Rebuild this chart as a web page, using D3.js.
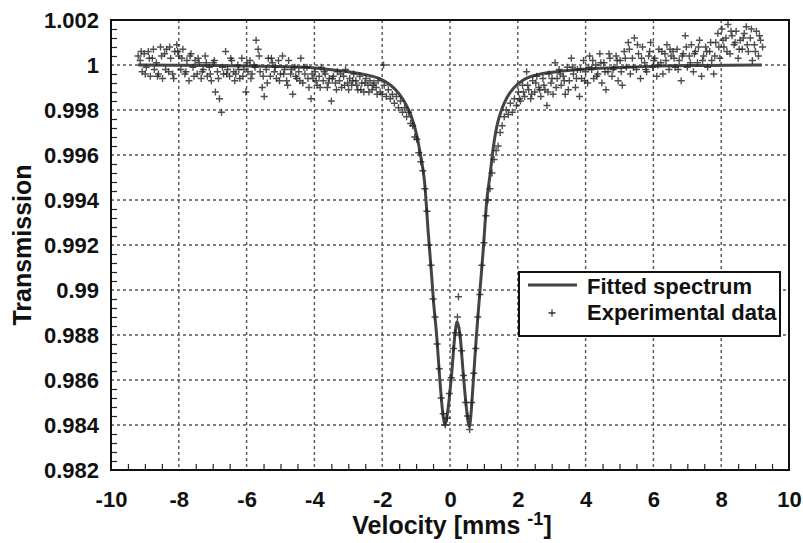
<!DOCTYPE html>
<html>
<head>
<meta charset="UTF-8">
<script src="https://d3js.org/d3.v7.min.js"></script>
<style>
  body { margin: 0; background: #fff; }
  svg text { font-family: "Liberation Sans", Arial, sans-serif; fill: #111; }
  .tick-label { font-size: 22px; font-weight: bold; }
  .grid line { stroke: #555; stroke-width: 1.4px; stroke-dasharray: 3,3; }
  .minor line { stroke: #222; stroke-width: 1.2px; }
</style>
</head>
<body>
<svg id="chart" width="803" height="543"></svg>
<script>
// axis ticks
const xTicks = [-10, -8, -6, -4, -2, 0, 2, 4, 6, 8, 10];
const yTicks = [0.982, 0.984, 0.986, 0.988, 0.99, 0.992, 0.994, 0.996, 0.998, 1, 1.002];
const yTickLabels = ["0.982", "0.984", "0.986", "0.988", "0.99", "0.992", "0.994", "0.996", "0.998", "1", "1.002"];

// fitted spectrum [velocity, transmission]
const fitted = [
  [-9.2, 1.0000], [-7, 0.99998], [-6, 0.99996], [-5, 0.99993], [-4, 0.99987],
  [-3, 0.99970], [-2.5, 0.99957], [-2, 0.99934], [-1.75, 0.99910], [-1.5, 0.99872],
  [-1.3, 0.99825], [-1.15, 0.99775], [-1, 0.99700], [-0.87, 0.99600], [-0.75, 0.99480],
  [-0.64, 0.99252], [-0.54, 0.99060], [-0.49, 0.98956], [-0.39, 0.98792], [-0.3, 0.98600],
  [-0.2, 0.98437], [-0.15, 0.98400], [-0.1, 0.98430], [-0.05, 0.98481], [0.05, 0.98630],
  [0.15, 0.98808], [0.21, 0.98859], [0.29, 0.98808], [0.39, 0.98630], [0.49, 0.98467],
  [0.57, 0.98393], [0.62, 0.98450], [0.67, 0.98556], [0.77, 0.98778], [0.88, 0.98990],
  [0.98, 0.99178], [1.08, 0.99390], [1.18, 0.99510], [1.28, 0.99637], [1.38, 0.99726],
  [1.52, 0.99800], [1.67, 0.99852], [1.87, 0.99896], [2.16, 0.99933], [2.56, 0.99956],
  [3.15, 0.99970], [3.93, 0.99981], [4.92, 0.99988], [6, 0.99995], [7.5, 0.99998],
  [9.2, 1.0000]
];

// experimental data points [velocity, transmission]
const experimental = [
  [-9.20,1.0004],[-9.14,1.0002],[-9.08,0.9997],[-9.02,1.0005],[-8.96,0.9999],[-8.90,1.0006],
  [-8.84,0.9995],[-8.78,1.0003],[-8.72,0.9998],[-8.66,1.0001],[-8.60,0.9996],[-8.54,1.0008],
  [-8.48,0.9994],[-8.42,1.0005],[-8.36,1.0007],[-8.30,0.9997],[-8.24,1.0003],[-8.18,0.9996],
  [-8.12,1.0006],[-8.06,1.0009],[-8.00,1.0004],[-7.94,0.9998],[-7.88,1.0007],[-7.82,0.9996],
  [-7.76,1.0002],[-7.70,0.9993],[-7.64,1.0005],[-7.58,0.9999],[-7.52,1.0002],
  [-7.46,0.9996],[-7.40,1.0001],[-7.34,0.9994],[-7.28,0.9998],[-7.22,1.0004],[-7.16,0.9995],
  [-7.10,0.9999],[-7.04,0.9993],[-6.98,1.0001],[-6.92,0.9988],[-6.86,0.9997],[-6.80,0.9985],
  [-6.74,0.9979],[-6.68,0.9996],[-6.62,1.0006],[-6.56,0.9998],[-6.50,0.9995],[-6.44,1.0002],
  [-6.38,0.9997],[-6.32,0.9996],[-6.26,1.0000],[-6.20,0.9994],[-6.14,1.0003],[-6.08,0.9998],
  [-6.02,0.9988],[-5.96,0.9997],[-5.90,1.0002],[-5.84,0.9996],[-5.78,1.0000],[-5.72,1.0011],
  [-5.66,1.0007],[-5.60,0.9997],[-5.54,0.9990],[-5.48,0.9986],[-5.42,0.9998],[-5.36,1.0003],
  [-5.30,0.9995],[-5.24,1.0001],[-5.18,0.9997],[-5.12,0.9994],[-5.06,1.0002],[-5.00,0.9996],
  [-4.94,1.0004],[-4.88,0.9998],[-4.82,0.9993],[-4.76,1.0002],[-4.70,0.9996],[-4.64,0.9987],
  [-4.58,0.9999],[-4.52,0.9994],[-4.46,0.9997],[-4.40,1.0003],[-4.34,0.9992],[-4.28,0.9996],
  [-4.22,0.9999],[-4.16,0.9990],[-4.10,0.9985],[-4.04,0.9994],[-3.98,0.9997],[-3.92,0.9991],
  [-3.86,0.9995],[-3.80,0.9999],[-3.74,0.9993],[-3.68,0.9996],[-3.62,0.9990],[-3.56,0.9994],
  [-3.50,0.9984],[-3.44,0.9995],[-3.38,0.9992],[-3.32,0.9997],[-3.26,0.9993],[-3.20,0.9990],
  [-3.14,0.9995],[-3.08,0.9998],[-3.02,0.9992],[-2.96,0.9994],[-2.90,0.9991],[-2.84,0.9996],
  [-2.78,0.9993],[-2.72,0.9989],[-2.66,0.9995],[-2.60,0.9992],[-2.54,0.9988],[-2.48,0.9994],
  [-2.42,0.9991],[-2.36,0.9993],[-2.30,0.9989],[-2.24,0.9992],[-2.18,0.9990],[-2.12,0.9993],
  [-2.06,0.9988],[-1.96,1.0000],
  [-2.00,0.9987],[-1.94,0.9991],[-1.88,0.9986],[-1.82,0.9989],[-1.76,0.9985],[-1.70,0.9987],
  [-1.64,0.9983],[-1.58,0.9986],[-1.52,0.9981],[-1.46,0.9984],[-1.40,0.9979],[-1.34,0.9981],
  [-1.28,0.9977],[-1.22,0.9979],[-1.16,0.9974],[-1.10,0.9973],[-1.04,0.9968],[-0.98,0.9967],
  [-0.92,0.9961],[-0.86,0.9957],[-0.80,0.9953],[-0.74,0.9945],[-0.68,0.9935],[-0.62,0.9920],
  [-0.56,0.9911],[-0.50,0.9896],[-0.44,0.9888],[-0.38,0.9876],[-0.32,0.9865],[-0.26,0.9852],
  [-0.20,0.9845],[-0.14,0.9840],[-0.08,0.9843],[-0.02,0.9854],[0.04,0.9861],[0.10,0.9874],
  [0.16,0.9881],[0.22,0.9888],[0.25,0.9897],[0.28,0.9880],[0.34,0.9873],[0.40,0.9862],
  [0.46,0.9850],[0.52,0.9844],[0.58,0.9838],[0.64,0.9850],[0.70,0.9863],[0.76,0.9874],
  [0.82,0.9888],[0.88,0.9898],[0.94,0.9911],[1.00,0.9921],[1.06,0.9933],[1.12,0.9940],
  [1.18,0.9945],[1.24,0.9952],[1.30,0.9958],[1.36,0.9962],[1.42,0.9964],[1.48,0.9970],
  [1.54,0.9973],[1.60,0.9977],[1.66,0.9980],
  [1.72,0.9978],[1.78,0.9983],[1.84,0.9979],[1.90,0.9985],[1.96,0.9982],[2.02,0.9988],
  [2.08,0.9984],[2.14,0.9991],[2.20,0.9986],[2.26,0.9997],[2.32,0.9989],[2.38,0.9985],
  [2.44,0.9993],[2.50,0.9988],[2.56,0.9995],[2.62,0.9990],[2.68,0.9986],[2.74,0.9994],
  [2.80,0.9989],[2.86,0.9982],[2.92,0.9996],[2.98,0.9992],[3.04,0.9987],[3.10,1.0001],
  [3.16,0.9994],[3.22,0.9998],[3.28,0.9991],[3.34,0.9995],[3.40,0.9987],[3.46,0.9999],
  [3.52,0.9993],[3.58,1.0003],[3.64,0.9996],[3.70,0.9990],[3.76,0.9998],[3.82,0.9986],
  [3.88,0.9994],[3.94,1.0002],[4.00,0.9997],[4.06,0.9992],[4.12,1.0004],[4.18,0.9998],
  [4.24,0.9994],[4.30,1.0000],[4.36,0.9996],[4.42,1.0005],[4.48,0.9992],[4.54,1.0001],
  [4.60,0.9989],[4.66,0.9997],[4.72,1.0003],[4.78,0.9995],[4.84,0.9999],[4.90,1.0004],
  [4.96,0.9993],
  [5.02,1.0002],[5.08,0.9991],[5.14,1.0006],[5.20,0.9999],[5.26,1.0010],[5.32,0.9996],
  [5.38,1.0003],[5.44,1.0012],[5.50,0.9998],[5.56,1.0005],[5.62,0.9994],[5.68,1.0008],
  [5.74,1.0001],[5.80,0.9997],[5.86,1.0004],[5.92,1.0010],[5.98,0.9999],[6.04,1.0003],
  [6.10,0.9995],[6.16,1.0007],[6.22,1.0001],[6.28,0.9996],[6.34,1.0005],[6.40,1.0009],
  [6.46,0.9998],[6.52,1.0004],[6.58,1.0006],[6.64,0.9999],[6.70,1.0007],[6.76,1.0002],
  [6.82,0.9993],[6.88,1.0005],[6.94,1.0013],[7.00,0.9999],[7.06,1.0004],[7.12,1.0009],
  [7.18,0.9997],[7.24,1.0006],[7.30,1.0001],[7.36,1.0011],[7.42,0.9995],[7.48,1.0004],
  [7.54,1.0008],[7.60,0.9999],[7.66,1.0006],[7.72,1.0002],[7.78,0.9996],[7.84,1.0010],
  [7.90,1.0014],[7.96,1.0003],[8.02,1.0016],[8.08,1.0008],[8.14,1.0012],[8.20,1.0018],
  [8.26,1.0005],[8.32,1.0013],[8.38,1.0009],[8.44,1.0015],[8.50,1.0003],[8.56,1.0011],
  [8.62,1.0007],[8.68,1.0014],[8.74,1.0017],[8.80,1.0006],[8.86,1.0012],[8.92,1.0002],
  [8.98,1.0009],[9.04,1.0015],[9.10,1.0004],[9.16,1.0011],[9.22,1.0008],
  // second pass in the wings, where the scatter is denser
  [-9.11,1.0006],[-8.99,0.9996],[-8.87,1.0003],[-8.75,1.0007],[-8.63,0.9995],[-8.51,1.0004],
  [-8.39,0.9998],[-8.27,1.0008],[-8.15,0.9994],[-8.03,1.0006],[-7.91,1.0003],[-7.79,0.9997],
  [-7.67,1.0004],[-7.55,0.9995],[-7.43,1.0003],[-7.31,0.9997],[-7.19,1.0001],[-7.07,0.9996],
  [-6.95,1.0002],[-6.83,0.9994],[-6.71,0.9999],[-6.59,0.9996],[-6.47,1.0003],[-6.35,0.9993],
  [-6.23,0.9998],[-6.11,0.9995],[-5.99,1.0001],[-5.87,0.9994],[-5.75,0.9999],[-5.63,1.0004],
  [-5.51,0.9995],[-5.39,0.9992],[-5.27,1.0003],[-5.15,0.9999],[-5.03,0.9993],
  [-4.91,0.9996],[-4.79,0.9991],[-4.67,0.9998],[-4.55,0.9995],[-4.43,0.9993],[-4.31,0.9999],
  [-4.19,0.9994],[-4.07,0.9996],[-3.95,0.9993],[-3.83,0.9990],[-3.71,0.9997],[-3.59,0.9992],
  [-3.47,0.9994],[-3.35,0.9989],[-3.23,0.9996],[-3.11,0.9991],[-2.99,0.9989],[-2.87,0.9993],
  [-2.75,0.9991],[-2.63,0.9989],[-2.51,0.9992],[-2.39,0.9988],[-2.27,0.9991],[-2.15,0.9987],
  [2.05,0.9985],[2.17,0.9988],[2.29,0.9991],[2.41,0.9987],[2.53,0.9992],[2.65,0.9989],
  [2.77,0.9991],[2.89,0.9988],[3.01,0.9994],[3.13,0.9990],[3.25,0.9996],[3.37,0.9993],
  [3.49,0.9989],[3.61,0.9999],[3.73,0.9994],[3.85,0.9998],[3.97,0.9993],[4.09,0.9999],
  [4.21,1.0002],[4.33,0.9995],[4.45,1.0001],[4.57,0.9997],[4.69,1.0005],[4.81,0.9998],
  [4.93,1.0002],[5.05,0.9997],[5.17,1.0003],[5.29,1.0007],[5.41,0.9999],[5.53,1.0009],
  [5.65,1.0003],[5.77,0.9998],[5.89,1.0006],[6.01,1.0002],[6.13,1.0000],[6.25,1.0006],
  [6.37,1.0002],[6.49,1.0007],[6.61,1.0003],[6.73,0.9998],[6.85,1.0004],[6.97,1.0008],
  [7.09,1.0001],[7.21,1.0005],[7.33,1.0008],[7.45,1.0002],[7.57,1.0006],[7.69,1.0010],
  [7.81,1.0004],[7.93,1.0008],[8.05,1.0011],[8.17,1.0006],[8.29,1.0015],[8.41,1.0010],
  [8.53,1.0007],[8.65,1.0012],[8.77,1.0009],[8.89,1.0016],[9.01,1.0006],[9.13,1.0013]
];

const legendItems = ["Fitted spectrum", "Experimental data"];

const margin = { top: 20, right: 14, bottom: 73, left: 111 },
      width = 803 - margin.left - margin.right,
      height = 543 - margin.top - margin.bottom;

const svg = d3.select("#chart")
  .append("g")
  .attr("transform", `translate(${margin.left},${margin.top})`);

const x = d3.scaleLinear().domain([-10, 10]).range([0, width]);
const y = d3.scaleLinear().domain([0.982, 1.002]).range([height, 0]);

// dotted grid
svg.append("g").attr("class", "grid")
  .selectAll("line").data(xTicks.slice(1, -1)).enter().append("line")
  .attr("x1", d => x(d)).attr("x2", d => x(d))
  .attr("y1", 0).attr("y2", height);
svg.append("g").attr("class", "grid")
  .selectAll("line").data(yTicks.slice(1, -1)).enter().append("line")
  .attr("x1", 0).attr("x2", width)
  .attr("y1", d => y(d)).attr("y2", d => y(d));

// minor ticks pointing inward
const xMinor = d3.range(-10, 10.01, 0.5).filter(v => Math.abs(v % 2) > 0.01);
const yMinor = d3.range(0, 50).map(i => 0.982 + i * 0.0004).filter((v, i) => i % 5 !== 0);

svg.append("g").attr("class", "minor")
  .attr("transform", `translate(0,${height})`)
  .call(d3.axisBottom(x).tickValues(xMinor).tickSize(-6).tickFormat(""))
  .call(g => g.select(".domain").remove());
svg.append("g").attr("class", "minor")
  .call(d3.axisLeft(y).tickValues(yMinor).tickSize(-6).tickFormat(""))
  .call(g => g.select(".domain").remove());

// tick labels
svg.append("g")
  .attr("transform", `translate(0,${height})`)
  .call(d3.axisBottom(x).tickValues(xTicks).tickSize(0).tickPadding(21).tickFormat(d => String(d)))
  .call(g => g.select(".domain").remove())
  .selectAll("text").attr("class", "tick-label");
svg.append("g")
  .call(d3.axisLeft(y).tickValues(yTicks).tickSize(0).tickPadding(12)
    .tickFormat((d, i) => yTickLabels[i]))
  .call(g => g.select(".domain").remove())
  .selectAll("text").attr("class", "tick-label");

// fitted curve
const line = d3.line()
  .x(d => x(d[0]))
  .y(d => y(d[1]))
  .curve(d3.curveMonotoneX);

svg.append("path")
  .datum(fitted)
  .attr("fill", "none")
  .attr("stroke", "#444")
  .attr("stroke-width", 3)
  .attr("d", line);

// experimental points as plus markers
const plus = "M-3.5,0H3.5M0,-3.5V3.5";
svg.append("g")
  .selectAll("path").data(experimental).enter().append("path")
  .attr("transform", d => `translate(${x(d[0])},${y(d[1])})`)
  .attr("d", plus)
  .attr("stroke", "#222")
  .attr("stroke-opacity", 0.8)
  .attr("stroke-width", 1.4);

// frame
svg.append("rect")
  .attr("width", width).attr("height", height)
  .attr("fill", "none").attr("stroke", "#111").attr("stroke-width", 2);

// axis titles
svg.append("text")
  .attr("transform", `translate(${22 - margin.left},${245 - margin.top}) rotate(-90)`)
  .attr("text-anchor", "middle")
  .attr("dy", "0.35em")
  .style("font-size", "25px").style("font-weight", "bold")
  .text("Transmission");

const xt = svg.append("text")
  .attr("x", 452 - margin.left).attr("y", 534 - margin.top)
  .attr("text-anchor", "middle")
  .style("font-size", "25px").style("font-weight", "bold");
xt.append("tspan").text("Velocity [mms ");
xt.append("tspan").attr("dy", -9).style("font-size", "18px").text("-1");
xt.append("tspan").attr("dy", 9).text("]");

// legend
const lg = svg.append("g").attr("transform", `translate(${519 - margin.left},${272 - margin.top})`);
lg.append("rect").attr("width", 261).attr("height", 64)
  .attr("fill", "#fff").attr("stroke", "#111").attr("stroke-width", 2);
lg.append("line").attr("x1", 9).attr("x2", 58).attr("y1", 13).attr("y2", 13)
  .attr("stroke", "#444").attr("stroke-width", 3);
lg.append("path").attr("transform", "translate(33,41)").attr("d", plus)
  .attr("stroke", "#333").attr("stroke-width", 1.3);
lg.selectAll("text.lt").data(legendItems).enter().append("text")
  .attr("class", "lt")
  .attr("x", 68).attr("y", (d, i) => 22 + i * 26)
  .style("font-size", "22px").style("font-weight", "bold")
  .text(d => d);
</script>
</body>
</html>
